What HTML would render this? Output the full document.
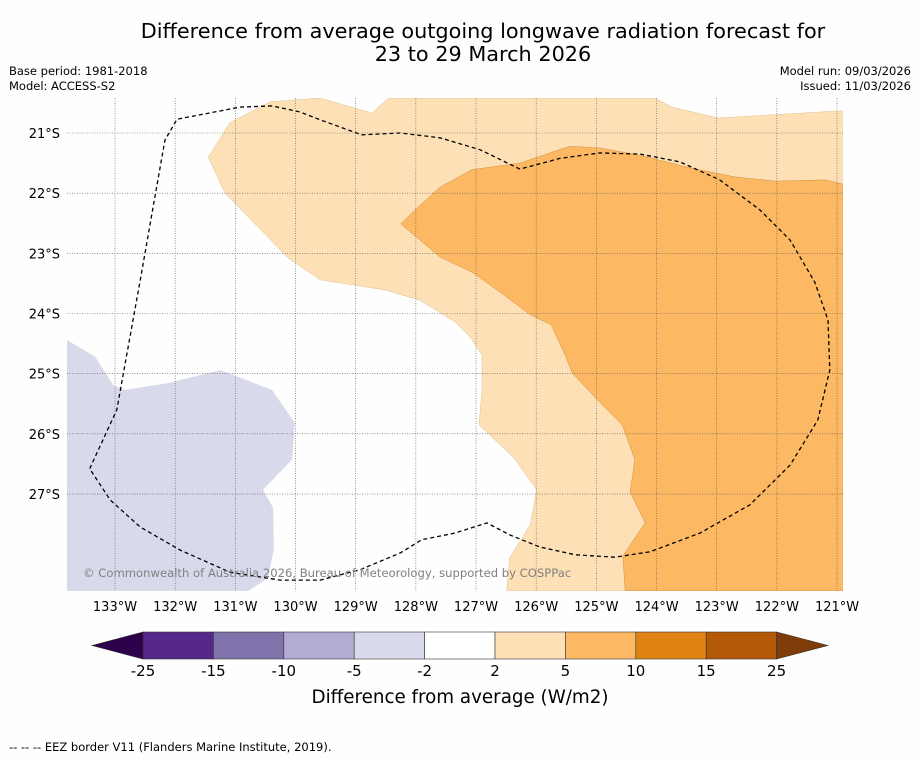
<!DOCTYPE html>
<html><head><meta charset="utf-8">
<style>
body{margin:0;background:#fff;font-family:"Liberation Sans","DejaVu Sans",sans-serif;}
svg text{font-family:"DejaVu Sans","Liberation Sans",sans-serif;}
</style></head>
<body>
<svg id="chart" width="919" height="758" viewBox="0 0 919 758" xmlns="http://www.w3.org/2000/svg">
<rect width="919" height="758" fill="#fefefe"/>
<text x="483" y="38" font-size="20.8" text-anchor="middle" fill="#000">Difference from average outgoing longwave radiation forecast for</text>
<text x="483" y="61" font-size="20.8" text-anchor="middle" fill="#000">23 to 29 March 2026</text>
<text x="9" y="75" font-size="11.5">Base period: 1981-2018</text>
<text x="9" y="90" font-size="11.5">Model: ACCESS-S2</text>
<text x="911" y="75" font-size="11.5" text-anchor="end">Model run: 09/03/2026</text>
<text x="911" y="90" font-size="11.5" text-anchor="end">Issued: 11/03/2026</text>
<defs><clipPath id="mapclip"><rect x="67" y="98" width="776" height="493"/></clipPath></defs>
<g id="map" clip-path="url(#mapclip)"></g>
<g id="grid"></g>
<g id="labels"></g>
<text x="83" y="577" font-size="11.6" fill="#808080">© Commonwealth of Australia 2026, Bureau of Meteorology, supported by COSPPac</text>
<g id="cbar"></g>
<text x="460" y="703" font-size="18.3" text-anchor="middle">Difference from average (W/m2)</text>
<text x="9" y="751" font-size="11.5">--  --  -- EEZ border V11 (Flanders Marine Institute, 2019).</text>
</svg>
<script>
const lonTicks=[-133,-132,-131,-130,-129,-128,-127,-126,-125,-124,-123,-122,-121];
const latTicks=[-21,-22,-23,-24,-25,-26,-27];
const cbLevels=["-25","-15","-10","-5","-2","2","5","10","15","25"];
const cbColors=["#542788","#8073ac","#b2abd2","#d8daeb","#ffffff","#fee0b6","#fdb863","#e08214","#b35806"];
const cbExt=["#2d004b","#7f3b08"];
const light=[[-131.45,-21.40],[-131.09,-20.83],[-130.42,-20.48],[-129.59,-20.42],[-128.73,-20.67],[-128.46,-20.42],[-124.03,-20.42],[-123.74,-20.57],[-122.98,-20.75],[-122.11,-20.70],[-120.90,-20.63],[-120.90,-28.61],[-126.49,-28.61],[-126.44,-28.06],[-126.10,-27.51],[-125.99,-26.93],[-126.37,-26.40],[-126.95,-25.85],[-126.90,-25.27],[-126.90,-24.69],[-127.10,-24.39],[-127.35,-24.14],[-127.93,-23.78],[-128.51,-23.61],[-129.59,-23.44],[-130.12,-23.08],[-131.17,-22.00]];
const dark=[[-128.25,-22.51],[-127.93,-22.20],[-127.60,-21.90],[-127.07,-21.61],[-126.27,-21.50],[-125.44,-21.22],[-124.94,-21.25],[-124.27,-21.37],[-123.44,-21.58],[-122.70,-21.73],[-122.03,-21.80],[-121.20,-21.78],[-120.90,-21.85],[-120.90,-28.61],[-124.52,-28.61],[-124.56,-28.03],[-124.19,-27.48],[-124.44,-26.97],[-124.36,-26.43],[-124.57,-25.85],[-125.02,-25.40],[-125.40,-24.99],[-125.52,-24.69],[-125.75,-24.19],[-126.10,-24.02],[-126.65,-23.61],[-127.07,-23.31],[-127.60,-23.06]];
const lav=[[-133.80,-24.44],[-133.33,-24.72],[-133.03,-25.19],[-132.83,-25.27],[-132.09,-25.15],[-131.25,-24.94],[-130.39,-25.27],[-130.01,-25.82],[-130.06,-26.43],[-130.54,-26.93],[-130.37,-27.23],[-130.36,-27.93],[-130.46,-28.40],[-130.79,-28.61],[-133.80,-28.61]];
const eez=[[-130.39,-20.55],[-130.92,-20.57],[-131.97,-20.77],[-132.17,-21.12],[-132.58,-23.44],[-132.97,-25.60],[-133.42,-26.58],[-133.08,-27.10],[-132.58,-27.55],[-131.92,-27.93],[-131.09,-28.30],[-130.26,-28.43],[-129.59,-28.43],[-128.93,-28.26],[-128.26,-27.98],[-127.90,-27.76],[-127.35,-27.65],[-126.82,-27.48],[-126.44,-27.68],[-125.94,-27.88],[-125.35,-28.01],[-124.69,-28.05],[-124.11,-27.96],[-123.28,-27.65],[-122.45,-27.18],[-121.78,-26.52],[-121.32,-25.77],[-121.12,-24.94],[-121.15,-24.11],[-121.37,-23.48],[-121.78,-22.78],[-122.28,-22.28],[-122.95,-21.78],[-123.61,-21.48],[-124.27,-21.35],[-124.94,-21.33],[-125.60,-21.42],[-126.27,-21.60],[-126.93,-21.28],[-127.60,-21.08],[-128.26,-21.00],[-128.90,-21.03],[-129.59,-20.78],[-129.93,-20.65],[-130.39,-20.55]];
const NS="http://www.w3.org/2000/svg";
const sx=lon=>115+(lon+133)*60.17;
const sy=lat=>133+(-21-lat)*60.17;
function mk(tag,attrs,parent){const e=document.createElementNS(NS,tag);for(const k in attrs)e.setAttribute(k,attrs[k]);parent.appendChild(e);return e;}
const map=document.getElementById('map');
const pts=a=>a.map(p=>sx(p[0]).toFixed(1)+","+sy(p[1]).toFixed(1)).join(" ");
let p1=mk('polygon',{points:pts(light),fill:"#fee0b6",stroke:"#e0c090","stroke-width":0.5},map);


let p2=mk('polygon',{points:pts(dark),fill:"#fdb863",stroke:"#d09040","stroke-width":0.5},map);


let p3=mk('polygon',{points:pts(lav),fill:"#d8daeb"},map);


let p4=mk('polyline',{points:pts(eez),fill:"none",stroke:"#000","stroke-width":1.3,"stroke-dasharray":"4,3"},map);


const grid=document.getElementById('grid'),labels=document.getElementById('labels');
lonTicks.forEach(l=>{const x=sx(l);
 let g=mk('line',{x1:x,x2:x,y1:98,y2:591,stroke:"#555","stroke-width":0.6,"stroke-dasharray":"1,1.5"},grid);
 
 
 let t=mk('text',{x:x,y:611,"font-size":13,"text-anchor":"middle"},labels);t.textContent=Math.abs(l)+"°W";
 
 });
latTicks.forEach(l=>{const y=sy(l);
 let g=mk('line',{x1:67,x2:843,y1:y,y2:y,stroke:"#555","stroke-width":0.6,"stroke-dasharray":"1,1.5"},grid);
 
 
 let t=mk('text',{x:60,y:y+5,"font-size":13,"text-anchor":"end"},labels);t.textContent=Math.abs(l)+"°S";
 
 });
const cb=document.getElementById('cbar');const x0=143,w=70.4,y0=632,h=27;
cbColors.forEach((c,i)=>{let r=mk('rect',{x:x0+i*w,y:y0,width:w,height:h,fill:c,stroke:"#333","stroke-width":0.6},cb);
 
 });
const xe=x0+cbColors.length*w;
let a1=mk('polygon',{points:`${x0},${y0} 92,${y0+h/2} ${x0},${y0+h}`,fill:cbExt[0],stroke:"#333","stroke-width":0.6},cb);


let a2=mk('polygon',{points:`${xe},${y0} 828,${y0+h/2} ${xe},${y0+h}`,fill:cbExt[1],stroke:"#333","stroke-width":0.6},cb);


cbLevels.forEach((v,i)=>{let t=mk('text',{x:x0+i*w,y:676,"font-size":15,"text-anchor":"middle"},cb);t.textContent=v;
 
 });
</script>
</body></html>
